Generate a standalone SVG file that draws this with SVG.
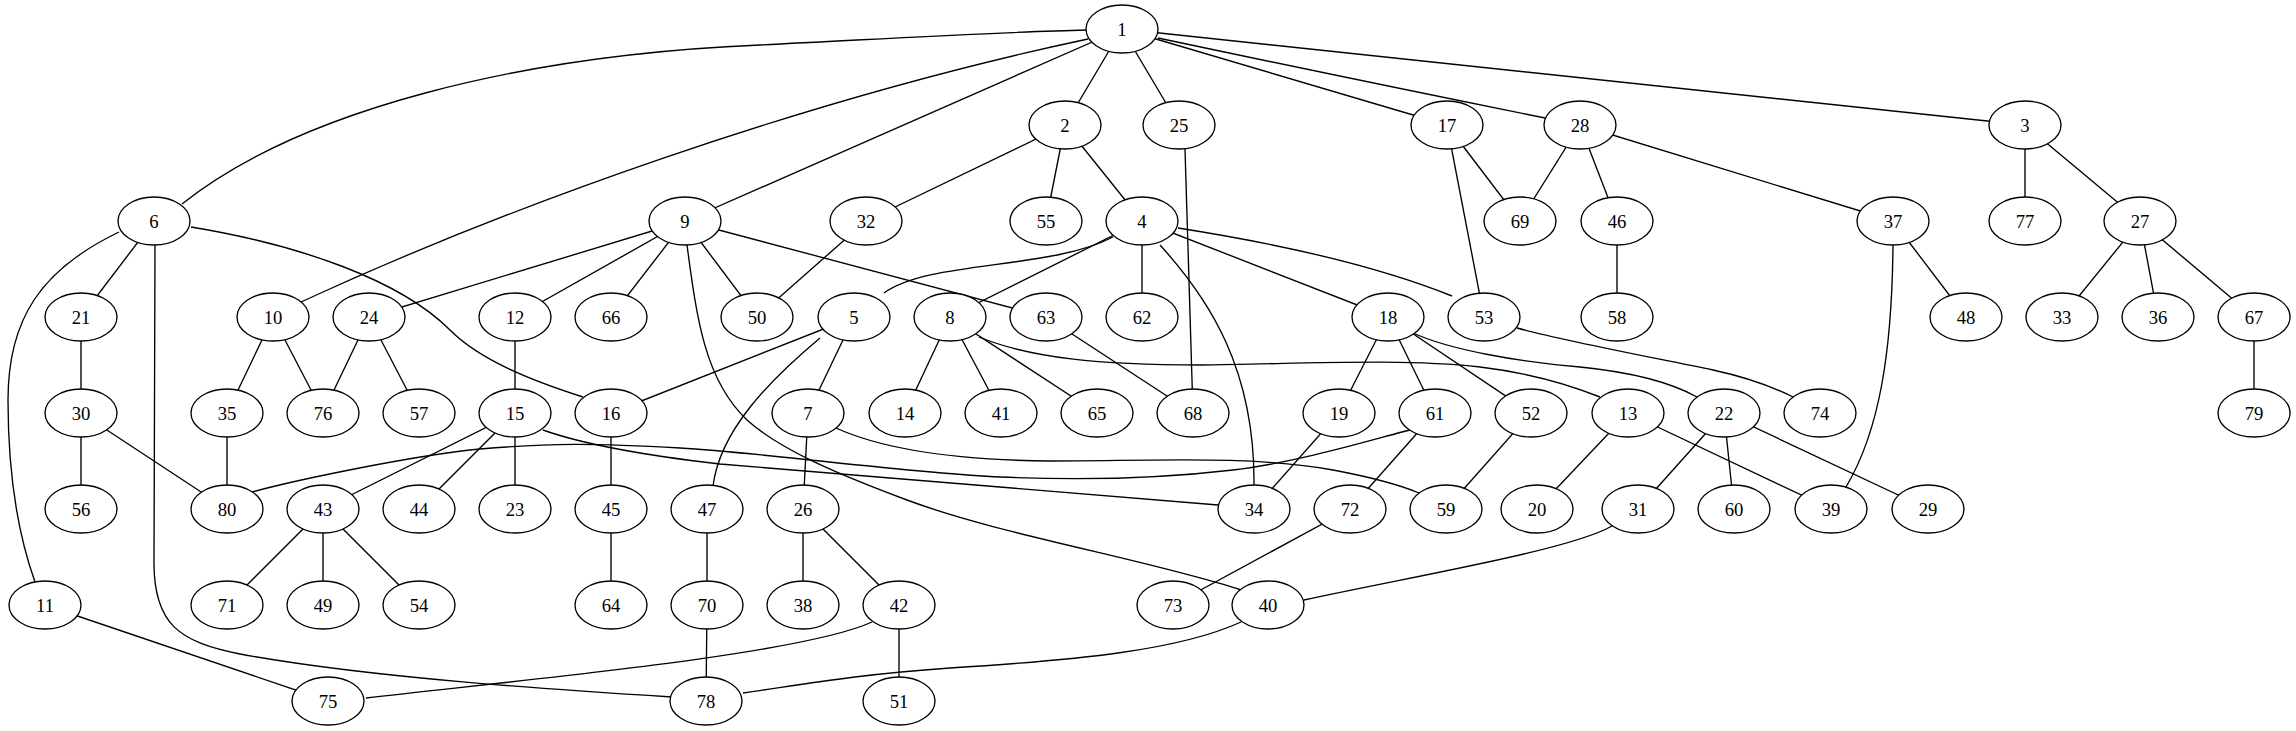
<svg xmlns="http://www.w3.org/2000/svg" width="2296" height="731" viewBox="0 0 2296 731">
<style>
.e{fill:none;stroke:#000;stroke-width:1.35}
.n ellipse{fill:#fff;stroke:#000;stroke-width:1.35}
.n text{font-family:"Liberation Serif","Times New Roman",serif;font-size:18.67px;text-anchor:middle;fill:#000}
</style>
<rect width="2296" height="731" fill="#fff"/>
<g id="edges">
<line class="e" x1="1122" y1="29" x2="1065" y2="125"/>
<line class="e" x1="1122" y1="29" x2="1179" y2="125"/>
<line class="e" x1="1122" y1="29" x2="1447" y2="125"/>
<path class="e" d="M1158,38 Q1380,85 1580,125"/>
<line class="e" x1="1122" y1="29" x2="2025" y2="125"/>
<line class="e" x1="1122" y1="29" x2="685" y2="221"/>
<line class="e" x1="1065" y1="125" x2="866" y2="221"/>
<line class="e" x1="1065" y1="125" x2="1046" y2="221"/>
<line class="e" x1="1065" y1="125" x2="1142" y2="221"/>
<line class="e" x1="1185" y1="149" x2="1193" y2="413"/>
<line class="e" x1="1447" y1="125" x2="1520" y2="221"/>
<line class="e" x1="1447" y1="125" x2="1484" y2="317"/>
<line class="e" x1="1580" y1="125" x2="1520" y2="221"/>
<line class="e" x1="1580" y1="125" x2="1617" y2="221"/>
<line class="e" x1="1580" y1="125" x2="1893" y2="221"/>
<line class="e" x1="2025" y1="125" x2="2025" y2="221"/>
<line class="e" x1="2025" y1="125" x2="2140" y2="221"/>
<line class="e" x1="154" y1="221" x2="81" y2="317"/>
<line class="e" x1="685" y1="221" x2="369" y2="317"/>
<line class="e" x1="685" y1="221" x2="515" y2="317"/>
<line class="e" x1="685" y1="221" x2="611" y2="317"/>
<line class="e" x1="685" y1="221" x2="757" y2="317"/>
<line class="e" x1="685" y1="221" x2="1046" y2="317"/>
<line class="e" x1="866" y1="221" x2="757" y2="317"/>
<line class="e" x1="1142" y1="221" x2="950" y2="317"/>
<line class="e" x1="1142" y1="221" x2="1142" y2="317"/>
<line class="e" x1="1142" y1="221" x2="1388" y2="317"/>
<line class="e" x1="1617" y1="221" x2="1617" y2="317"/>
<line class="e" x1="1893" y1="221" x2="1966" y2="317"/>
<line class="e" x1="2140" y1="221" x2="2062" y2="317"/>
<line class="e" x1="2140" y1="221" x2="2158" y2="317"/>
<line class="e" x1="2140" y1="221" x2="2254" y2="317"/>
<line class="e" x1="81" y1="317" x2="81" y2="413"/>
<line class="e" x1="273" y1="317" x2="227" y2="413"/>
<line class="e" x1="273" y1="317" x2="323" y2="413"/>
<line class="e" x1="369" y1="317" x2="323" y2="413"/>
<line class="e" x1="369" y1="317" x2="419" y2="413"/>
<line class="e" x1="515" y1="317" x2="515" y2="413"/>
<line class="e" x1="854" y1="317" x2="611" y2="413"/>
<line class="e" x1="854" y1="317" x2="808" y2="413"/>
<line class="e" x1="950" y1="317" x2="905" y2="413"/>
<line class="e" x1="950" y1="317" x2="1001" y2="413"/>
<line class="e" x1="950" y1="317" x2="1097" y2="413"/>
<line class="e" x1="1046" y1="317" x2="1193" y2="413"/>
<line class="e" x1="1388" y1="317" x2="1339" y2="413"/>
<line class="e" x1="1388" y1="317" x2="1435" y2="413"/>
<line class="e" x1="1388" y1="317" x2="1531" y2="413"/>
<line class="e" x1="2254" y1="317" x2="2254" y2="413"/>
<line class="e" x1="81" y1="413" x2="81" y2="509"/>
<line class="e" x1="81" y1="413" x2="227" y2="509"/>
<line class="e" x1="227" y1="413" x2="227" y2="509"/>
<line class="e" x1="515" y1="413" x2="323" y2="509"/>
<line class="e" x1="515" y1="413" x2="419" y2="509"/>
<line class="e" x1="515" y1="413" x2="515" y2="509"/>
<line class="e" x1="611" y1="413" x2="611" y2="509"/>
<line class="e" x1="808" y1="413" x2="803" y2="509"/>
<line class="e" x1="1339" y1="413" x2="1254" y2="509"/>
<line class="e" x1="1435" y1="413" x2="1350" y2="509"/>
<line class="e" x1="1531" y1="413" x2="1446" y2="509"/>
<line class="e" x1="1628" y1="413" x2="1537" y2="509"/>
<line class="e" x1="1628" y1="413" x2="1831" y2="509"/>
<line class="e" x1="1724" y1="413" x2="1638" y2="509"/>
<line class="e" x1="1724" y1="413" x2="1734" y2="509"/>
<line class="e" x1="1724" y1="413" x2="1928" y2="509"/>
<line class="e" x1="323" y1="509" x2="227" y2="605"/>
<line class="e" x1="323" y1="509" x2="323" y2="605"/>
<line class="e" x1="323" y1="509" x2="419" y2="605"/>
<line class="e" x1="611" y1="509" x2="611" y2="605"/>
<line class="e" x1="707" y1="509" x2="707" y2="605"/>
<line class="e" x1="803" y1="509" x2="803" y2="605"/>
<line class="e" x1="803" y1="509" x2="899" y2="605"/>
<line class="e" x1="1350" y1="509" x2="1173" y2="605"/>
<line class="e" x1="45" y1="605" x2="328" y2="701"/>
<line class="e" x1="707" y1="605" x2="706" y2="701"/>
<line class="e" x1="899" y1="605" x2="899" y2="701"/>
<path class="e" d="M182,204 C300,110 520,55 760,45 C900,38 1000,32 1086,30"/>
<path class="e" d="M301,302 C500,210 800,100 1088,39"/>
<path class="e" d="M119,232 C40,270 8,320 8,400 C8,480 20,540 35,582"/>
<path class="e" d="M155,245 L154,560 C153,625 180,642 240,654 C370,678 560,690 672,697"/>
<path class="e" d="M191,227 C300,245 400,280 450,330 C480,360 530,380 583,397"/>
<path class="e" d="M687,245 C697,320 705,380 747,420 C780,450 840,475 907,500 C1000,535 1150,560 1241,590"/>
<path class="e" d="M820,338 C770,380 720,430 713,486"/>
<path class="e" d="M543,430 C585,445 650,456 720,464 L1218,505"/>
<path class="e" d="M252,492 C292,481 409,456 480,449 C551,443 593,443 680,448 C767,453 908,473 1000,477 C1092,481 1165,478 1233,470 C1301,462 1381,437 1410,430"/>
<path class="e" d="M836,428 C880,448 950,460 1050,461 C1150,461 1250,455 1333,470 C1370,477 1400,485 1419,493"/>
<path class="e" d="M1113,237 C1050,270 930,260 884,293"/>
<path class="e" d="M1160,245 C1210,300 1255,370 1254,485"/>
<path class="e" d="M1178,228 Q1350,255 1452,296"/>
<path class="e" d="M979,337 C1030,358 1100,365 1200,365 C1300,364 1400,358 1480,367 C1530,373 1570,385 1600,397"/>
<path class="e" d="M1413,333 C1450,350 1520,362 1580,367 C1630,372 1670,382 1697,397"/>
<path class="e" d="M1517,328 C1560,340 1640,355 1713,370 C1750,378 1775,388 1793,397"/>
<path class="e" d="M1893,245 C1892,350 1880,430 1846,487"/>
<path class="e" d="M1612,526 C1570,550 1420,575 1304,600"/>
<path class="e" d="M872,622 C800,655 520,680 366,698"/>
<path class="e" d="M1241,622 C1180,650 1080,660 950,668 C850,675 800,685 743,693"/>
</g>
<g id="node-1" class="n"><ellipse cx="1122" cy="29" rx="36" ry="24"/><text x="1122" y="35.5">1</text></g>
<g id="node-2" class="n"><ellipse cx="1065" cy="125" rx="36" ry="24"/><text x="1065" y="131.5">2</text></g>
<g id="node-25" class="n"><ellipse cx="1179" cy="125" rx="36" ry="24"/><text x="1179" y="131.5">25</text></g>
<g id="node-17" class="n"><ellipse cx="1447" cy="125" rx="36" ry="24"/><text x="1447" y="131.5">17</text></g>
<g id="node-28" class="n"><ellipse cx="1580" cy="125" rx="36" ry="24"/><text x="1580" y="131.5">28</text></g>
<g id="node-3" class="n"><ellipse cx="2025" cy="125" rx="36" ry="24"/><text x="2025" y="131.5">3</text></g>
<g id="node-6" class="n"><ellipse cx="154" cy="221" rx="36" ry="24"/><text x="154" y="227.5">6</text></g>
<g id="node-9" class="n"><ellipse cx="685" cy="221" rx="36" ry="24"/><text x="685" y="227.5">9</text></g>
<g id="node-32" class="n"><ellipse cx="866" cy="221" rx="36" ry="24"/><text x="866" y="227.5">32</text></g>
<g id="node-55" class="n"><ellipse cx="1046" cy="221" rx="36" ry="24"/><text x="1046" y="227.5">55</text></g>
<g id="node-4" class="n"><ellipse cx="1142" cy="221" rx="36" ry="24"/><text x="1142" y="227.5">4</text></g>
<g id="node-69" class="n"><ellipse cx="1520" cy="221" rx="36" ry="24"/><text x="1520" y="227.5">69</text></g>
<g id="node-46" class="n"><ellipse cx="1617" cy="221" rx="36" ry="24"/><text x="1617" y="227.5">46</text></g>
<g id="node-37" class="n"><ellipse cx="1893" cy="221" rx="36" ry="24"/><text x="1893" y="227.5">37</text></g>
<g id="node-77" class="n"><ellipse cx="2025" cy="221" rx="36" ry="24"/><text x="2025" y="227.5">77</text></g>
<g id="node-27" class="n"><ellipse cx="2140" cy="221" rx="36" ry="24"/><text x="2140" y="227.5">27</text></g>
<g id="node-21" class="n"><ellipse cx="81" cy="317" rx="36" ry="24"/><text x="81" y="323.5">21</text></g>
<g id="node-10" class="n"><ellipse cx="273" cy="317" rx="36" ry="24"/><text x="273" y="323.5">10</text></g>
<g id="node-24" class="n"><ellipse cx="369" cy="317" rx="36" ry="24"/><text x="369" y="323.5">24</text></g>
<g id="node-12" class="n"><ellipse cx="515" cy="317" rx="36" ry="24"/><text x="515" y="323.5">12</text></g>
<g id="node-66" class="n"><ellipse cx="611" cy="317" rx="36" ry="24"/><text x="611" y="323.5">66</text></g>
<g id="node-50" class="n"><ellipse cx="757" cy="317" rx="36" ry="24"/><text x="757" y="323.5">50</text></g>
<g id="node-5" class="n"><ellipse cx="854" cy="317" rx="36" ry="24"/><text x="854" y="323.5">5</text></g>
<g id="node-8" class="n"><ellipse cx="950" cy="317" rx="36" ry="24"/><text x="950" y="323.5">8</text></g>
<g id="node-63" class="n"><ellipse cx="1046" cy="317" rx="36" ry="24"/><text x="1046" y="323.5">63</text></g>
<g id="node-62" class="n"><ellipse cx="1142" cy="317" rx="36" ry="24"/><text x="1142" y="323.5">62</text></g>
<g id="node-18" class="n"><ellipse cx="1388" cy="317" rx="36" ry="24"/><text x="1388" y="323.5">18</text></g>
<g id="node-53" class="n"><ellipse cx="1484" cy="317" rx="36" ry="24"/><text x="1484" y="323.5">53</text></g>
<g id="node-58" class="n"><ellipse cx="1617" cy="317" rx="36" ry="24"/><text x="1617" y="323.5">58</text></g>
<g id="node-48" class="n"><ellipse cx="1966" cy="317" rx="36" ry="24"/><text x="1966" y="323.5">48</text></g>
<g id="node-33" class="n"><ellipse cx="2062" cy="317" rx="36" ry="24"/><text x="2062" y="323.5">33</text></g>
<g id="node-36" class="n"><ellipse cx="2158" cy="317" rx="36" ry="24"/><text x="2158" y="323.5">36</text></g>
<g id="node-67" class="n"><ellipse cx="2254" cy="317" rx="36" ry="24"/><text x="2254" y="323.5">67</text></g>
<g id="node-30" class="n"><ellipse cx="81" cy="413" rx="36" ry="24"/><text x="81" y="419.5">30</text></g>
<g id="node-35" class="n"><ellipse cx="227" cy="413" rx="36" ry="24"/><text x="227" y="419.5">35</text></g>
<g id="node-76" class="n"><ellipse cx="323" cy="413" rx="36" ry="24"/><text x="323" y="419.5">76</text></g>
<g id="node-57" class="n"><ellipse cx="419" cy="413" rx="36" ry="24"/><text x="419" y="419.5">57</text></g>
<g id="node-15" class="n"><ellipse cx="515" cy="413" rx="36" ry="24"/><text x="515" y="419.5">15</text></g>
<g id="node-16" class="n"><ellipse cx="611" cy="413" rx="36" ry="24"/><text x="611" y="419.5">16</text></g>
<g id="node-7" class="n"><ellipse cx="808" cy="413" rx="36" ry="24"/><text x="808" y="419.5">7</text></g>
<g id="node-14" class="n"><ellipse cx="905" cy="413" rx="36" ry="24"/><text x="905" y="419.5">14</text></g>
<g id="node-41" class="n"><ellipse cx="1001" cy="413" rx="36" ry="24"/><text x="1001" y="419.5">41</text></g>
<g id="node-65" class="n"><ellipse cx="1097" cy="413" rx="36" ry="24"/><text x="1097" y="419.5">65</text></g>
<g id="node-68" class="n"><ellipse cx="1193" cy="413" rx="36" ry="24"/><text x="1193" y="419.5">68</text></g>
<g id="node-19" class="n"><ellipse cx="1339" cy="413" rx="36" ry="24"/><text x="1339" y="419.5">19</text></g>
<g id="node-61" class="n"><ellipse cx="1435" cy="413" rx="36" ry="24"/><text x="1435" y="419.5">61</text></g>
<g id="node-52" class="n"><ellipse cx="1531" cy="413" rx="36" ry="24"/><text x="1531" y="419.5">52</text></g>
<g id="node-13" class="n"><ellipse cx="1628" cy="413" rx="36" ry="24"/><text x="1628" y="419.5">13</text></g>
<g id="node-22" class="n"><ellipse cx="1724" cy="413" rx="36" ry="24"/><text x="1724" y="419.5">22</text></g>
<g id="node-74" class="n"><ellipse cx="1820" cy="413" rx="36" ry="24"/><text x="1820" y="419.5">74</text></g>
<g id="node-79" class="n"><ellipse cx="2254" cy="413" rx="36" ry="24"/><text x="2254" y="419.5">79</text></g>
<g id="node-56" class="n"><ellipse cx="81" cy="509" rx="36" ry="24"/><text x="81" y="515.5">56</text></g>
<g id="node-80" class="n"><ellipse cx="227" cy="509" rx="36" ry="24"/><text x="227" y="515.5">80</text></g>
<g id="node-43" class="n"><ellipse cx="323" cy="509" rx="36" ry="24"/><text x="323" y="515.5">43</text></g>
<g id="node-44" class="n"><ellipse cx="419" cy="509" rx="36" ry="24"/><text x="419" y="515.5">44</text></g>
<g id="node-23" class="n"><ellipse cx="515" cy="509" rx="36" ry="24"/><text x="515" y="515.5">23</text></g>
<g id="node-45" class="n"><ellipse cx="611" cy="509" rx="36" ry="24"/><text x="611" y="515.5">45</text></g>
<g id="node-47" class="n"><ellipse cx="707" cy="509" rx="36" ry="24"/><text x="707" y="515.5">47</text></g>
<g id="node-26" class="n"><ellipse cx="803" cy="509" rx="36" ry="24"/><text x="803" y="515.5">26</text></g>
<g id="node-34" class="n"><ellipse cx="1254" cy="509" rx="36" ry="24"/><text x="1254" y="515.5">34</text></g>
<g id="node-72" class="n"><ellipse cx="1350" cy="509" rx="36" ry="24"/><text x="1350" y="515.5">72</text></g>
<g id="node-59" class="n"><ellipse cx="1446" cy="509" rx="36" ry="24"/><text x="1446" y="515.5">59</text></g>
<g id="node-20" class="n"><ellipse cx="1537" cy="509" rx="36" ry="24"/><text x="1537" y="515.5">20</text></g>
<g id="node-31" class="n"><ellipse cx="1638" cy="509" rx="36" ry="24"/><text x="1638" y="515.5">31</text></g>
<g id="node-60" class="n"><ellipse cx="1734" cy="509" rx="36" ry="24"/><text x="1734" y="515.5">60</text></g>
<g id="node-39" class="n"><ellipse cx="1831" cy="509" rx="36" ry="24"/><text x="1831" y="515.5">39</text></g>
<g id="node-29" class="n"><ellipse cx="1928" cy="509" rx="36" ry="24"/><text x="1928" y="515.5">29</text></g>
<g id="node-11" class="n"><ellipse cx="45" cy="605" rx="36" ry="24"/><text x="45" y="611.5">11</text></g>
<g id="node-71" class="n"><ellipse cx="227" cy="605" rx="36" ry="24"/><text x="227" y="611.5">71</text></g>
<g id="node-49" class="n"><ellipse cx="323" cy="605" rx="36" ry="24"/><text x="323" y="611.5">49</text></g>
<g id="node-54" class="n"><ellipse cx="419" cy="605" rx="36" ry="24"/><text x="419" y="611.5">54</text></g>
<g id="node-64" class="n"><ellipse cx="611" cy="605" rx="36" ry="24"/><text x="611" y="611.5">64</text></g>
<g id="node-70" class="n"><ellipse cx="707" cy="605" rx="36" ry="24"/><text x="707" y="611.5">70</text></g>
<g id="node-38" class="n"><ellipse cx="803" cy="605" rx="36" ry="24"/><text x="803" y="611.5">38</text></g>
<g id="node-42" class="n"><ellipse cx="899" cy="605" rx="36" ry="24"/><text x="899" y="611.5">42</text></g>
<g id="node-73" class="n"><ellipse cx="1173" cy="605" rx="36" ry="24"/><text x="1173" y="611.5">73</text></g>
<g id="node-40" class="n"><ellipse cx="1268" cy="605" rx="36" ry="24"/><text x="1268" y="611.5">40</text></g>
<g id="node-75" class="n"><ellipse cx="328" cy="701" rx="36" ry="24"/><text x="328" y="707.5">75</text></g>
<g id="node-78" class="n"><ellipse cx="706" cy="701" rx="36" ry="24"/><text x="706" y="707.5">78</text></g>
<g id="node-51" class="n"><ellipse cx="899" cy="701" rx="36" ry="24"/><text x="899" y="707.5">51</text></g>
</svg>
